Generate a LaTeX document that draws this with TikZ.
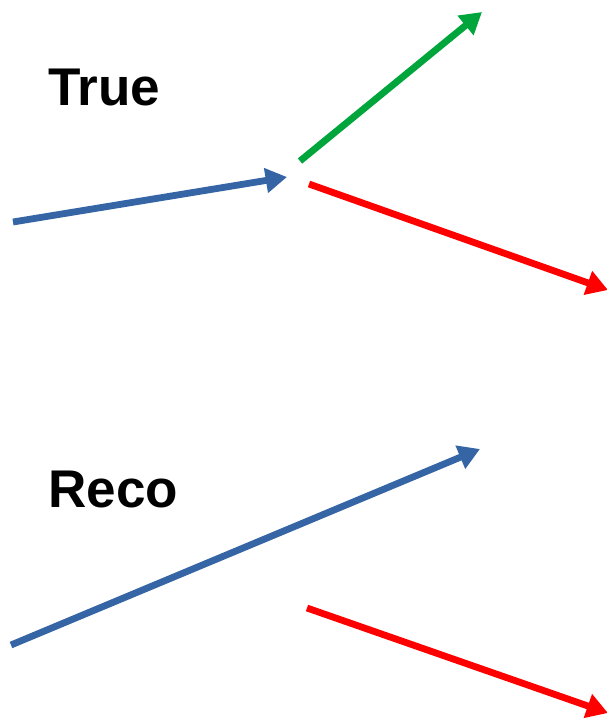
\documentclass[tikz,border=0pt]{standalone}
\usepackage{fontspec}
\setmainfont{Liberation Sans}
\usetikzlibrary{arrows.meta}
\definecolor{arrblue}{RGB}{54,101,166}
\definecolor{arrgreen}{RGB}{0,166,60}
\definecolor{arrred}{RGB}{255,0,0}
\tikzset{
  vec/.style={line width=5.1pt, -{Triangle[length=16pt,width=18pt]}},
  lbl/.style={anchor=base west, inner sep=0pt, font=\fontsize{39.8}{45}\selectfont\bfseries}
}
\begin{document}
\begin{tikzpicture}[x=0.75pt,y=-0.75pt]
\useasboundingbox (0,0) rectangle (607,719);
\node[lbl] (true) at (48,105) {True};
\node[lbl] (reco) at (48,507) {Reco};
\coordinate (tb0) at (13,222);
\coordinate (tb1) at (287,177);
\coordinate (tg0) at (300,161);
\coordinate (tg1) at (482,12);
\coordinate (tr0) at (309,184);
\coordinate (tr1) at (608,290);
\coordinate (rb0) at (11,645);
\coordinate (rb1) at (480,449);
\coordinate (rr0) at (307,608);
\coordinate (rr1) at (608,713);
\draw[vec, arrblue] (tb0) -- (tb1);
\draw[vec, arrgreen] (tg0) -- (tg1);
\draw[vec, arrred] (tr0) -- (tr1);
\draw[vec, arrblue] (rb0) -- (rb1);
\draw[vec, arrred] (rr0) -- (rr1);
\end{tikzpicture}
\end{document}
